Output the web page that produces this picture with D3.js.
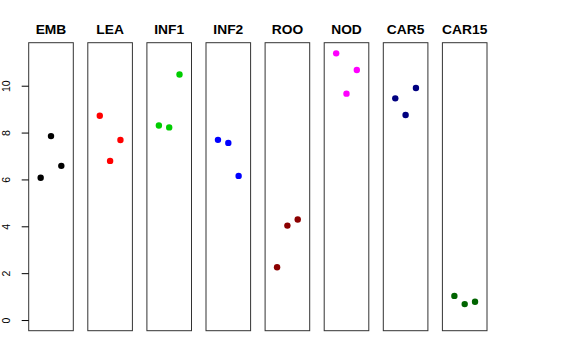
<!DOCTYPE html>
<html><head><meta charset="utf-8">
<script src="https://cdn.jsdelivr.net/npm/d3@7"></script>
<style>body{margin:0;background:#fff}svg{display:block}</style>
</head><body>
<script>
const groups = ["EMB","LEA","INF1","INF2","ROO","NOD","CAR5","CAR15"];
const colors = ["#000000","#FF0000","#00CD00","#0000FF","#8B0000","#FF00FF","#000080","#006400"];
const values = [
  [6.07, 7.85, 6.58],
  [8.72, 6.79, 7.68],
  [8.30, 8.22, 10.48],
  [7.69, 7.56, 6.15],
  [2.25, 4.03, 4.29],
  [11.38, 9.66, 10.67],
  [9.46, 8.75, 9.90],
  [1.03, 0.68, 0.78]
];
const yTicks = [0, 2, 4, 6, 8, 10];

(function () {
const W = 576, H = 360;
const svg = d3.select("body").append("svg").attr("width", W).attr("height", H);

const plotTop = 42.7, plotBottom = 330.7;
const panelW = 44.6, firstLeft = 28.7, step = 59.1;
const yMax = d3.max(values.flat());
const pad = yMax * 0.04;
const y = d3.scaleLinear().domain([0 - pad, yMax + pad]).range([plotBottom, plotTop]);

groups.forEach((g, i) => {
  const left = firstLeft + i * step;
  const x = d3.scaleLinear().domain([-0.16, 4.16]).range([left, left + panelW]);
  const p = svg.append("g");
  p.append("rect")
    .attr("x", x(-0.16)).attr("y", plotTop)
    .attr("width", x(4.16) - x(-0.16)).attr("height", plotBottom - plotTop)
    .attr("fill", "none").attr("stroke", "#333").attr("stroke-width", 1);
  p.append("text")
    .attr("transform", `translate(${x(2)},34) scale(1.15,1)`)
    .attr("text-anchor", "middle")
    .attr("font-family", "Liberation Sans, Arial, sans-serif")
    .attr("font-weight", "bold").attr("font-size", 12)
    .text(g);
  p.selectAll("circle").data(values[i]).join("circle")
    .attr("cx", (d, j) => x(j + 1))
    .attr("cy", d => y(d))
    .attr("r", 3.2)
    .attr("fill", colors[i]);
  if (i === 0) {
    const ax = svg.append("g").attr("transform", `translate(${x(-0.16)},0)`)
      .call(d3.axisLeft(y).tickValues(yTicks).tickSize(7).tickPadding(7).tickFormat(d3.format("d")));
    ax.select(".domain").remove();
    ax.selectAll(".tick line").attr("stroke", "#000");
    ax.selectAll(".tick text")
      .attr("font-family", "Liberation Sans, Arial, sans-serif")
      .attr("font-size", 10.5).attr("fill", "#000")
      .attr("text-anchor", "middle")
      .attr("x", null).attr("dy", null)
      .attr("transform", "translate(-21.5,0) rotate(-90)")
      .attr("y", 0)
      .attr("dominant-baseline", "middle");
  }
});
})();
</script>
</body></html>
